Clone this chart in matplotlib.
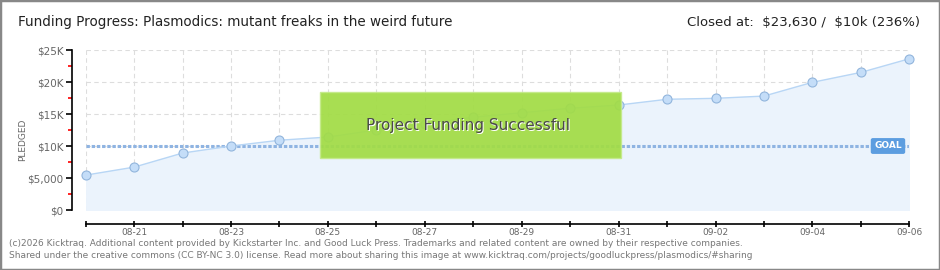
import matplotlib.pyplot as plt
from matplotlib.patches import Rectangle

# data
days = ['08-20', '08-21', '08-22', '08-23', '08-24', '08-25', '08-26', '08-27', '08-28',
        '08-29', '08-30', '08-31', '09-01', '09-02', '09-03', '09-04', '09-05', '09-06']
pledged = [5450, 6700, 8900, 10000, 10900, 11400, 12500, 13500, 14500,
           15200, 15900, 16400, 17300, 17450, 17800, 19950, 21500, 23630]
goal = 10000
y_ticks = [0, 5000, 10000, 15000, 20000, 25000]
y_tick_labels = ['$0', '$5,000', '$10K', '$15K', '$20K', '$25K']
y_minor = [2500, 7500, 12500, 17500, 22500]

plt.rcParams['font.family'] = ['DejaVu Sans']

fig = plt.figure(figsize=(9.4, 2.7), dpi=100)
ax = fig.add_axes([85.7 / 940, 60 / 270, 823.6 / 940, 160 / 270])

x = list(range(len(days)))
ax.fill_between(x, pledged, 0, color='#ebf3fc', zorder=1)
ax.plot(x, pledged, color='#b8d6f5', lw=1, zorder=3)
ax.plot(x, pledged, 'o', ms=6.5, mfc='#c4ddf8', mec='#92b5dc', mew=0.8, clip_on=False, zorder=4)

# goal line
ax.axhline(goal, color='#8fb4e2', lw=2.2, dashes=(1.1, 0.6), zorder=2)
ax.text(16.56, goal, 'GOAL', color='white', fontsize=6.5, fontweight='bold', ha='center', va='center',
        bbox=dict(boxstyle='round,pad=0.3,rounding_size=0.15', fc='#5c9de0', ec='#5c9de0'), zorder=5)

ax.set_xlim(0, len(days) - 1)
ax.set_ylim(0, 25000)
ax.set_xticks(x)
ax.set_xticklabels([d if i % 2 == 1 else '' for i, d in enumerate(days)])
ax.set_yticks(y_ticks)
ax.set_yticklabels(y_tick_labels)
ax.set_yticks(y_minor, minor=True)
ax.grid(True, color='#dddddd', ls=(0, (4, 3)), lw=0.8)
ax.set_axisbelow(True)

for s in ['top', 'right']:
    ax.spines[s].set_visible(False)
ax.spines['left'].set_position(('outward', 10))
ax.spines['bottom'].set_position(('outward', 10))
ax.spines['left'].set_linewidth(1.2)
ax.spines['bottom'].set_linewidth(1.2)
ax.tick_params(axis='y', which='major', length=4, width=1.2, colors='black', labelcolor='#666666',
               labelsize=7.5, pad=2)
ax.tick_params(axis='y', which='minor', length=3, width=1.2, color='red')
ax.tick_params(axis='x', direction='inout', length=5, width=1.2, labelcolor='#666666', labelsize=6.5, pad=0.5)

fig.text(0.024, 130 / 270, 'PLEDGED', rotation=90, ha='center', va='center', fontsize=6.5, color='#666666')

# success banner
fig.add_artist(Rectangle((320 / 940, 111.7 / 270), 300.7 / 940, 66 / 270, transform=fig.transFigure,
                         fc='#a2dc45', ec='#c4ea8a', lw=1, alpha=0.93, zorder=5))
banner = 'Project Funding Successful'
fig.text(469 / 940, 1 - 126 / 270, banner, ha='center', va='center', fontsize=11, color='white', zorder=6)
fig.text(468 / 940, 1 - 125 / 270, banner, ha='center', va='center', fontsize=11, color='#4a4a4a', zorder=7)

# header
fig.text(18 / 940, 1 - 22 / 270, 'Funding Progress: Plasmodics: mutant freaks in the weird future',
         ha='left', va='center', fontsize=9.75, color='#222222')
fig.text(920 / 940, 1 - 22 / 270, r'Closed at:  \$23,630 /  \$10k (236%)',
         ha='right', va='center', fontsize=9.5, color='#222222')

# footer
fig.text(9 / 940, 1 - 243 / 270, '(c)2026 Kicktraq. Additional content provided by Kickstarter Inc. and Good Luck Press. '
         'Trademarks and related content are owned by their respective companies.',
         ha='left', va='center', fontsize=6.5, color='#777777')
fig.text(9 / 940, 1 - 256 / 270, 'Shared under the creative commons (CC BY-NC 3.0) license. Read more about sharing '
         'this image at www.kicktraq.com/projects/goodluckpress/plasmodics/#sharing',
         ha='left', va='center', fontsize=6.5, color='#777777')

# outer border
fig.add_artist(Rectangle((0, 0), 1, 1, transform=fig.transFigure, fill=False, ec='#888888', lw=2.5, zorder=10))

fig.savefig('out.png', dpi=100)
